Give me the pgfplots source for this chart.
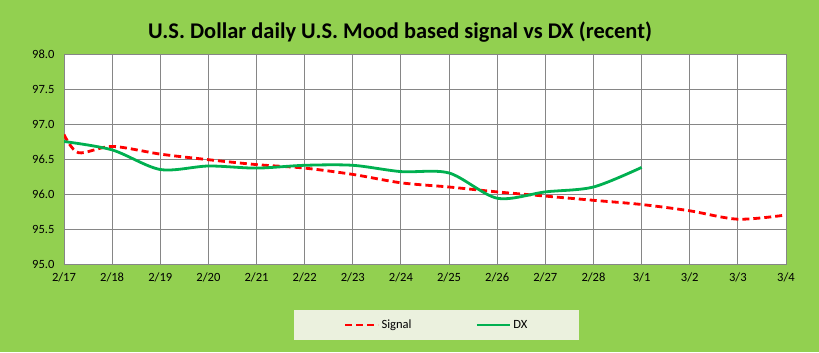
\documentclass[border=0pt]{standalone}
\usepackage{pgfplots}
\pgfplotsset{compat=1.18}
\usepackage{fontspec}
\setmainfont{Carlito}
\definecolor{bggreen}{HTML}{92D050}
\definecolor{legfill}{HTML}{EBF1DE}
\definecolor{dxgreen}{HTML}{00B050}
\definecolor{gridgray}{HTML}{868686}
\begin{document}
\begin{tikzpicture}[x=1bp,y=1bp]
\fill[bggreen] (0,0) rectangle (819,352);
\node[font=\fontsize{22.5}{26}\selectfont\bfseries] at (400,320) {U.S. Dollar daily U.S. Mood based signal vs DX (recent)};
\begin{axis}[
  at={(64bp,88bp)}, anchor=south west,
  scale only axis, width=722bp, height=210bp,
  xmin=0, xmax=15, ymin=95, ymax=98,
  xtick={0,...,15},
  xticklabels={2/17,2/18,2/19,2/20,2/21,2/22,2/23,2/24,2/25,2/26,2/27,2/28,3/1,3/2,3/3,3/4},
  ytick={95,95.5,...,98},
  /pgf/number format/fixed,
  /pgf/number format/fixed zerofill,
  /pgf/number format/precision=1,
  /pgf/number format/assume math mode=true,
  xticklabel style={yshift=-5bp},
  yticklabel style={xshift=-6bp},
  ticklabel style={font=\fontsize{12.6}{15}\selectfont},
  major tick length=0pt,
  grid=major,
  grid style={gridgray, line width=0.9bp},
  axis line style={gridgray, line width=0.9bp},
  axis background/.style={fill=white},
  legend columns=2,
  legend style={at={(0.516,-0.29)}, anchor=center, fill=legfill, draw=none,
    inner xsep=50bp, inner ysep=8bp, font=\fontsize{12.6}{15}\selectfont,
    /tikz/every even column/.append style={column sep=62bp}},
  legend image code/.code={\draw[#1] (0bp,0bp) -- (33bp,0bp);},
]
\addplot[red, line width=2.8bp, dash pattern=on 7bp off 4bp, smooth] coordinates {
(0,96.85) (0.3,96.59) (1,96.68) (2,96.57) (3,96.49) (4,96.42) (5,96.37) (6,96.28) (7,96.16) (8,96.10) (9,96.03) (10,95.97) (11,95.91) (12,95.85) (13,95.76) (14,95.64) (15,95.70)
};
\addlegendentry{Signal}
\addplot[dxgreen, line width=2.8bp, smooth] coordinates {
(0,96.75) (1,96.63) (2,96.35) (3,96.40) (4,96.37) (5,96.41) (6,96.41) (7,96.32) (8,96.30) (9,95.94) (10,96.03) (11,96.10) (12,96.38)
};
\addlegendentry{DX}
\end{axis}
\end{tikzpicture}
\end{document}
